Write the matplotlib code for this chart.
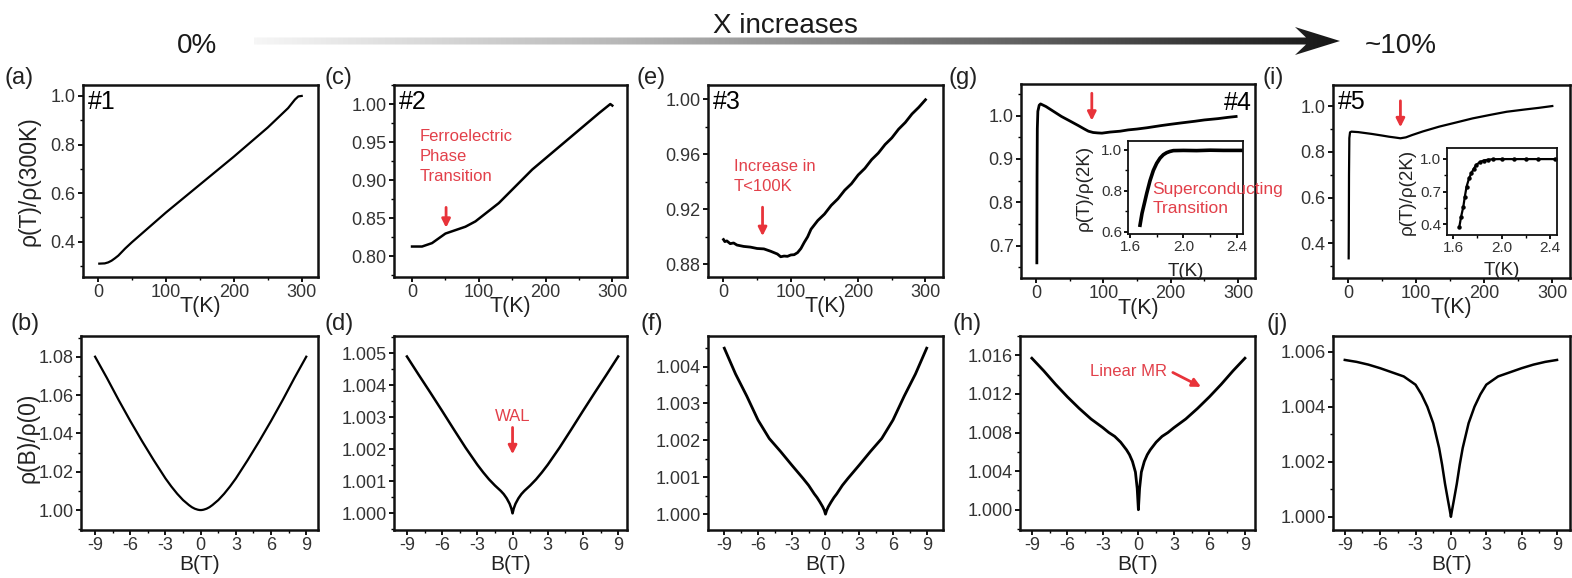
import numpy as np
import matplotlib
matplotlib.use('Agg')
import matplotlib.pyplot as plt
from matplotlib.ticker import FixedLocator, FormatStrFormatter
from matplotlib.patches import Polygon
from matplotlib.colors import LinearSegmentedColormap

plt.rcParams['font.family'] = ['Liberation Sans', 'DejaVu Sans']
plt.rcParams['axes.unicode_minus'] = False

# ---------------- data ----------------
T_a = [2, 10, 15, 20, 25, 30, 40, 50, 100, 150, 200, 250, 280, 290, 295, 300]
R_a = [0.31, 0.311, 0.315, 0.322, 0.332, 0.343, 0.372, 0.398, 0.52, 0.635, 0.75, 0.87,
       0.95, 0.985, 0.998, 1.0]

T_c = [0, 15, 30, 50, 80, 95, 130, 180, 230, 280, 297, 300]
R_c = [0.813, 0.813, 0.8175, 0.83, 0.839, 0.846, 0.87, 0.914, 0.951, 0.988, 1.0, 0.998]

T_e = [0, 2, 5, 10, 15, 20, 25, 30, 40, 50, 60, 70, 80, 85, 90, 95, 100, 105, 110, 115,
       120, 125, 130, 140, 150, 160, 170, 180, 190, 200, 210, 220, 230, 240, 250, 260,
       270, 280, 290, 300]
R_e = [0.898, 0.8965, 0.897, 0.895, 0.8955, 0.894, 0.8935, 0.893, 0.8925, 0.8915, 0.8912,
       0.8895, 0.8875, 0.8855, 0.886, 0.8858, 0.8868, 0.887, 0.8885, 0.8915, 0.896, 0.900,
       0.9055, 0.9118, 0.9165, 0.9228, 0.9276, 0.9338, 0.9385, 0.9449, 0.9497, 0.9560,
       0.9608, 0.9670, 0.9718, 0.9781, 0.9830, 0.9892, 0.9940, 0.9995]

T_g = [1.5, 1.6, 1.8, 2.2, 3, 5, 7, 15, 25, 38, 50, 63, 72, 78, 85, 92, 98, 110, 125,
       137, 150, 165, 186, 200, 215, 236, 250, 270, 285, 297]
R_g = [0.66, 0.75, 0.86, 0.97, 1.01, 1.024, 1.027, 1.021, 1.011, 0.998, 0.988, 0.977,
       0.969, 0.964, 0.961, 0.96, 0.9595, 0.962, 0.964, 0.967, 0.969, 0.972, 0.977, 0.98,
       0.983, 0.987, 0.99, 0.993, 0.996, 0.998]

Tin_g = [1.675, 1.69, 1.71, 1.725, 1.75, 1.775, 1.80, 1.825, 1.85, 1.875, 1.90, 1.925,
         2.0, 2.1, 2.2, 2.3, 2.45]
Rin_g = [0.632, 0.69, 0.745, 0.787, 0.85, 0.90, 0.935, 0.96, 0.977, 0.987, 0.993, 0.997,
         0.998, 0.997, 0.999, 0.998, 0.998]

T_i = [1.0, 1.2, 1.5, 2.0, 3, 5, 15, 25, 35, 50, 60, 70, 77, 85, 94, 110, 134, 160, 183,
       210, 233, 260, 280, 300]
R_i = [0.334, 0.45, 0.7, 0.86, 0.885, 0.888, 0.886, 0.882, 0.878, 0.871, 0.866, 0.862,
       0.859, 0.863, 0.873, 0.889, 0.91, 0.929, 0.946, 0.962, 0.975, 0.985, 0.992, 1.0]

Tin_i = [1.65, 1.665, 1.683, 1.695, 1.71, 1.73, 1.75, 1.77, 1.79, 1.82, 1.85, 1.89, 1.93,
         2.0, 2.1, 2.2, 2.3, 2.44]
Rin_i = [0.375, 0.47, 0.56, 0.65, 0.745, 0.82, 0.87, 0.91, 0.945, 0.97, 0.985, 0.993,
         0.997, 0.998, 0.998, 0.998, 0.998, 0.998]

B = [-9, -8, -7, -6, -5, -4, -3, -2.5, -2, -1.5, -1, -0.75, -0.5, -0.25, -0.1, 0,
     0.1, 0.25, 0.5, 0.75, 1, 1.5, 2, 2.5, 3, 4, 5, 6, 7, 8, 9]
R_b = [1.080, 1.069, 1.0575, 1.0465, 1.0360, 1.0260, 1.0165, 1.0123, 1.0085, 1.0052,
       1.0026, 1.0015, 1.0007, 1.0002, 1.00003, 1.0,
       1.00003, 1.0002, 1.0007, 1.0015, 1.0026, 1.0052, 1.0085, 1.0123, 1.0165, 1.0260,
       1.0360, 1.0465, 1.0575, 1.069, 1.080]
R_d = [1.0049, 1.00433, 1.00377, 1.0032, 1.00262, 1.00205, 1.00152, 1.00128, 1.00106,
       1.00087, 1.0007, 1.0006, 1.00047, 1.0003, 1.00015, 1.0,
       1.00015, 1.0003, 1.00047, 1.0006, 1.0007, 1.00087, 1.00106, 1.00128, 1.00152,
       1.00205, 1.00262, 1.0032, 1.00377, 1.00433, 1.0049]
R_f = [1.0045, 1.0038, 1.0032, 1.00255, 1.00205, 1.0017, 1.00133, 1.00115, 1.00097,
       1.00078, 1.00055, 1.00045, 1.00033, 1.0002, 1.0001, 1.0,
       1.0001, 1.0002, 1.00033, 1.00045, 1.00055, 1.00078, 1.00097, 1.00115, 1.00133,
       1.0017, 1.00205, 1.00255, 1.0032, 1.0038, 1.0045]
R_h = [1.0157, 1.0144, 1.013, 1.0117, 1.0105, 1.0094, 1.0085, 1.008, 1.0076, 1.007,
       1.0062, 1.0057, 1.005, 1.0039, 1.0022, 1.0,
       1.0022, 1.0039, 1.005, 1.0057, 1.0062, 1.007, 1.0076, 1.008, 1.0085, 1.0094,
       1.0105, 1.0117, 1.013, 1.0144, 1.0157]
R_j = [1.0057, 1.00563, 1.00553, 1.0054, 1.00525, 1.0051, 1.0048, 1.00445, 1.0040, 1.0034,
       1.0025, 1.0019, 1.0012, 1.0006, 1.00025, 1.0,
       1.00025, 1.0006, 1.0012, 1.0019, 1.0025, 1.0034, 1.0040, 1.00445, 1.0048, 1.0051,
       1.00525, 1.0054, 1.00553, 1.00563, 1.0057]

T_ticks = [0, 100, 200, 300]
B_ticks = [-9, -6, -3, 0, 3, 6, 9]

# ---------------- figure ----------------
W, H = 1572, 578
fig = plt.figure(figsize=(W / 100, H / 100), dpi=100)

RED = '#e8333a'
TXT_RED = '#e2404a'
TICKC = '#333333'


def ax_px(l, t, r, b):
    return fig.add_axes([l / W, 1 - b / H, (r - l) / W, (b - t) / H])


def style(ax, xlim, ylim, xmaj, xminstep, ymaj, yminstep, yfmt, xfmt='%d',
          tsize=13, lw=1.8, mlen=3.3, pad=2.0):
    ax.set_xlim(*xlim)
    ax.set_ylim(*ylim)
    for s in ax.spines.values():
        s.set_linewidth(lw)
        s.set_color('#111111')
    ax.xaxis.set_major_locator(FixedLocator(xmaj))
    ax.yaxis.set_major_locator(FixedLocator(ymaj))
    xm = np.arange(xmaj[0] - xminstep, xmaj[-1] + xminstep * 1.01, xminstep)
    ym = np.arange(ymaj[0] - yminstep, ymaj[-1] + yminstep * 1.01, yminstep)
    ax.xaxis.set_minor_locator(FixedLocator(list(xm)))
    ax.yaxis.set_minor_locator(FixedLocator(list(ym)))
    ax.xaxis.set_major_formatter(FormatStrFormatter(xfmt))
    ax.yaxis.set_major_formatter(FormatStrFormatter(yfmt))
    ax.tick_params(which='major', direction='out', length=mlen, width=1.3,
                   labelsize=tsize, labelcolor=TICKC, pad=pad, top=False, right=False)
    ax.tick_params(which='minor', direction='out', length=2.0, width=1.0,
                   top=False, right=False)


def xlab(ax, text, y, size=15.5):
    ax.set_xlabel(text, fontsize=size, color='#222222', va='center')
    ax.xaxis.set_label_coords(0.5, y)


ARROW = dict(arrowstyle='-|>,head_length=0.5,head_width=0.25', color=RED, lw=2)

# ---- top row ----
ax_a = ax_px(83, 85, 318, 277)
ax_a.plot(T_a, R_a, color='black', lw=1.6)
style(ax_a, (-22, 324), (0.255, 1.045), T_ticks, 50, [0.4, 0.6, 0.8, 1.0], 0.1, '%.1f')
xlab(ax_a, 'T(K)', -0.155)
ax_a.set_ylabel('ρ(T)/ρ(300K)', fontsize=16.5, color='#222222', va='center')
ax_a.yaxis.set_label_coords(-0.23, 0.5)
ax_a.text(0.02, 0.975, '#1', transform=ax_a.transAxes, fontsize=18, va='top', ha='left')

ax_c = ax_px(394, 85, 627, 277)
ax_c.plot(T_c, R_c, color='black', lw=1.8)
style(ax_c, (-27, 322), (0.773, 1.025), T_ticks, 50,
      [0.80, 0.85, 0.90, 0.95, 1.00], 0.025, '%.2f')
xlab(ax_c, 'T(K)', -0.155)
ax_c.text(0.02, 0.975, '#2', transform=ax_c.transAxes, fontsize=18, va='top', ha='left')
ax_c.text(11, 0.931, 'Ferroelectric\nPhase\nTransition', color=TXT_RED, fontsize=12,
          va='center', ha='left', linespacing=1.4)
ax_c.annotate('', xy=(51, 0.834), xytext=(51, 0.868), arrowprops=ARROW)

ax_e = ax_px(708, 85, 943, 277)
ax_e.plot(T_e, R_e, color='black', lw=2.0)
style(ax_e, (-23, 326), (0.8708, 1.0102), T_ticks, 50,
      [0.88, 0.92, 0.96, 1.00], 0.02, '%.2f')
xlab(ax_e, 'T(K)', -0.155)
ax_e.text(0.02, 0.975, '#3', transform=ax_e.transAxes, fontsize=18, va='top', ha='left')
ax_e.text(15, 0.944, 'Increase in\nT<100K', color=TXT_RED, fontsize=12,
          va='center', ha='left', linespacing=1.4)
ax_e.annotate('', xy=(58, 0.8985), xytext=(58, 0.9235), arrowprops=ARROW)

ax_g = ax_px(1021, 84, 1255, 278)
ax_g.plot(T_g, R_g, color='black', lw=2.0)
style(ax_g, (-22, 325), (0.625, 1.073), T_ticks, 50,
      [0.7, 0.8, 0.9, 1.0], 0.05, '%.1f')
xlab(ax_g, 'T(K)', -0.155)
ax_g.text(0.985, 0.965, '#4', transform=ax_g.transAxes, fontsize=18, va='top', ha='right')
ax_g.annotate('', xy=(83, 0.982), xytext=(83, 1.058), arrowprops=ARROW)

ax_gi = ax_px(1128, 141, 1243, 234)
ax_gi.plot(Tin_g, Rin_g, color='black', lw=2.6)
style(ax_gi, (1.585, 2.447), (0.589, 1.044), [1.6, 2.0, 2.4], 0.2,
      [0.6, 0.8, 1.0], 0.1, '%.1f', xfmt='%.1f', tsize=11, lw=1.3, mlen=2.8, pad=1.5)
ax_gi.set_xlabel('T(K)', fontsize=13.5, color='#222222', va='center')
ax_gi.xaxis.set_label_coords(0.5, -0.40)
ax_gi.set_ylabel('ρ(T)/ρ(2K)', fontsize=13.5, color='#222222', va='center')
ax_gi.yaxis.set_label_coords(-0.38, 0.5)
ax_gi.text(1.77, 0.76, 'Superconducting\nTransition', color=TXT_RED, fontsize=12.5,
           va='center', ha='left', linespacing=1.35, clip_on=False, zorder=10)

ax_i = ax_px(1333, 85, 1570, 278)
ax_i.plot(T_i, R_i, color='black', lw=1.6)
style(ax_i, (-22, 326), (0.248, 1.092), T_ticks, 50,
      [0.4, 0.6, 0.8, 1.0], 0.1, '%.1f')
xlab(ax_i, 'T(K)', -0.155)
ax_i.text(0.02, 0.975, '#5', transform=ax_i.transAxes, fontsize=18, va='top', ha='left')
ax_i.annotate('', xy=(77, 0.895), xytext=(77, 1.035), arrowprops=ARROW)

ax_ii = ax_px(1447, 148, 1557, 235)
ax_ii.plot(Tin_i, Rin_i, color='black', lw=1.6, marker='o', ms=2.2)
style(ax_ii, (1.548, 2.458), (0.30, 1.10), [1.6, 2.0, 2.4], 0.2,
      [0.4, 0.7, 1.0], 0.15, '%.1f', xfmt='%.1f', tsize=11, lw=1.3, mlen=2.8, pad=1.5)
ax_ii.set_xlabel('T(K)', fontsize=13.5, color='#222222', va='center')
ax_ii.xaxis.set_label_coords(0.5, -0.41)
ax_ii.set_ylabel('ρ(T)/ρ(2K)', fontsize=13.5, color='#222222', va='center')
ax_ii.yaxis.set_label_coords(-0.36, 0.5)

# ---- bottom row ----
bottom = [
    ((81, 318), R_b, (-10.2, 10.0), (0.9896, 1.0908), [1.00, 1.02, 1.04, 1.06, 1.08], 0.01, '%.2f', 1.6),
    ((394, 627), R_d, (-10.1, 9.75), (0.99948, 1.00554), [1.000, 1.001, 1.002, 1.003, 1.004, 1.005], 0.0005, '%.3f', 1.8),
    ((708, 943), R_f, (-10.45, 10.45), (0.99957, 1.00483), [1.000, 1.001, 1.002, 1.003, 1.004], 0.0005, '%.3f', 2.0),
    ((1020, 1255), R_h, (-10.0, 9.85), (0.9979, 1.018), [1.000, 1.004, 1.008, 1.012, 1.016], 0.002, '%.3f', 2.0),
    ((1333, 1570), R_j, (-10.0, 10.1), (0.99952, 1.00657), [1.000, 1.002, 1.004, 1.006], 0.001, '%.3f', 1.8),
]
baxes = []
for (l, r), R, xl, yl, yt, ym, fmt, lw in bottom:
    ax = ax_px(l, 336, r, 530)
    ax.plot(B, R, color='black', lw=lw)
    style(ax, xl, yl, B_ticks, 1.5, yt, ym, fmt)
    xlab(ax, 'B(T)', -0.178, size=15)
    baxes.append(ax)

ax_b, ax_d, ax_f, ax_h, ax_j = baxes
ax_b.set_ylabel('ρ(B)/ρ(0)', fontsize=16.5, color='#222222', va='center')
ax_b.yaxis.set_label_coords(-0.225, 0.474)

ax_d.text(0, 1.00304, 'WAL', color=TXT_RED, fontsize=12, ha='center', va='center')
ax_d.annotate('', xy=(0, 1.00176), xytext=(0, 1.00277), arrowprops=ARROW)

ax_h.text(-0.8, 1.01434, 'Linear MR', color=TXT_RED, fontsize=12, ha='center', va='center')
ax_h.annotate('', xy=(5.5, 1.0126), xytext=(2.7, 1.01435), arrowprops=ARROW)

# ---- panel letters ----
for lab, x, y in [('(a)', 4, 78), ('(c)', 324, 78), ('(e)', 637, 78), ('(g)', 948, 78),
                  ('(i)', 1262, 78), ('(b)', 10, 324), ('(d)', 325, 324), ('(f)', 640, 324),
                  ('(h)', 952, 324), ('(j)', 1266, 324)]:
    fig.text(x / W, 1 - y / H, lab, fontsize=17, ha='left', va='center', color='#222222')

# ---- heading with gradient arrow ----
ov = fig.add_axes([0, 0, 1, 1], zorder=-1)
ov.axis('off')
grad = np.linspace(0, 1, 512).reshape(1, -1)
cmap = LinearSegmentedColormap.from_list('g', ['#f6f6f6', '#b8b8b8', '#6a6a6a', '#161616'])
poly = Polygon([(254, 37.5), (1306, 37.5), (1295, 27), (1340, 41), (1295, 55),
                (1306, 44.5), (254, 44.5)], closed=True, facecolor='none', edgecolor='none',
               transform=ov.transData)
ov.add_patch(poly)
im = ov.imshow(grad, cmap=cmap, extent=(254, 1342, 56, 26), aspect='auto',
               interpolation='bilinear')
im.set_clip_path(poly)
ov.set_xlim(0, W)
ov.set_ylim(H, 0)

fig.text(785 / W, 1 - 33 / H, 'X increases', fontsize=20, ha='center', va='baseline',
         color='#1a1a1a')
fig.text(197 / W, 1 - 53 / H, '0%', fontsize=20, ha='center', va='baseline', color='#1a1a1a')
fig.text(1401 / W, 1 - 53 / H, '~10%', fontsize=20, ha='center', va='baseline',
         color='#1a1a1a')

fig.savefig('out.png', dpi=100, facecolor='white')
